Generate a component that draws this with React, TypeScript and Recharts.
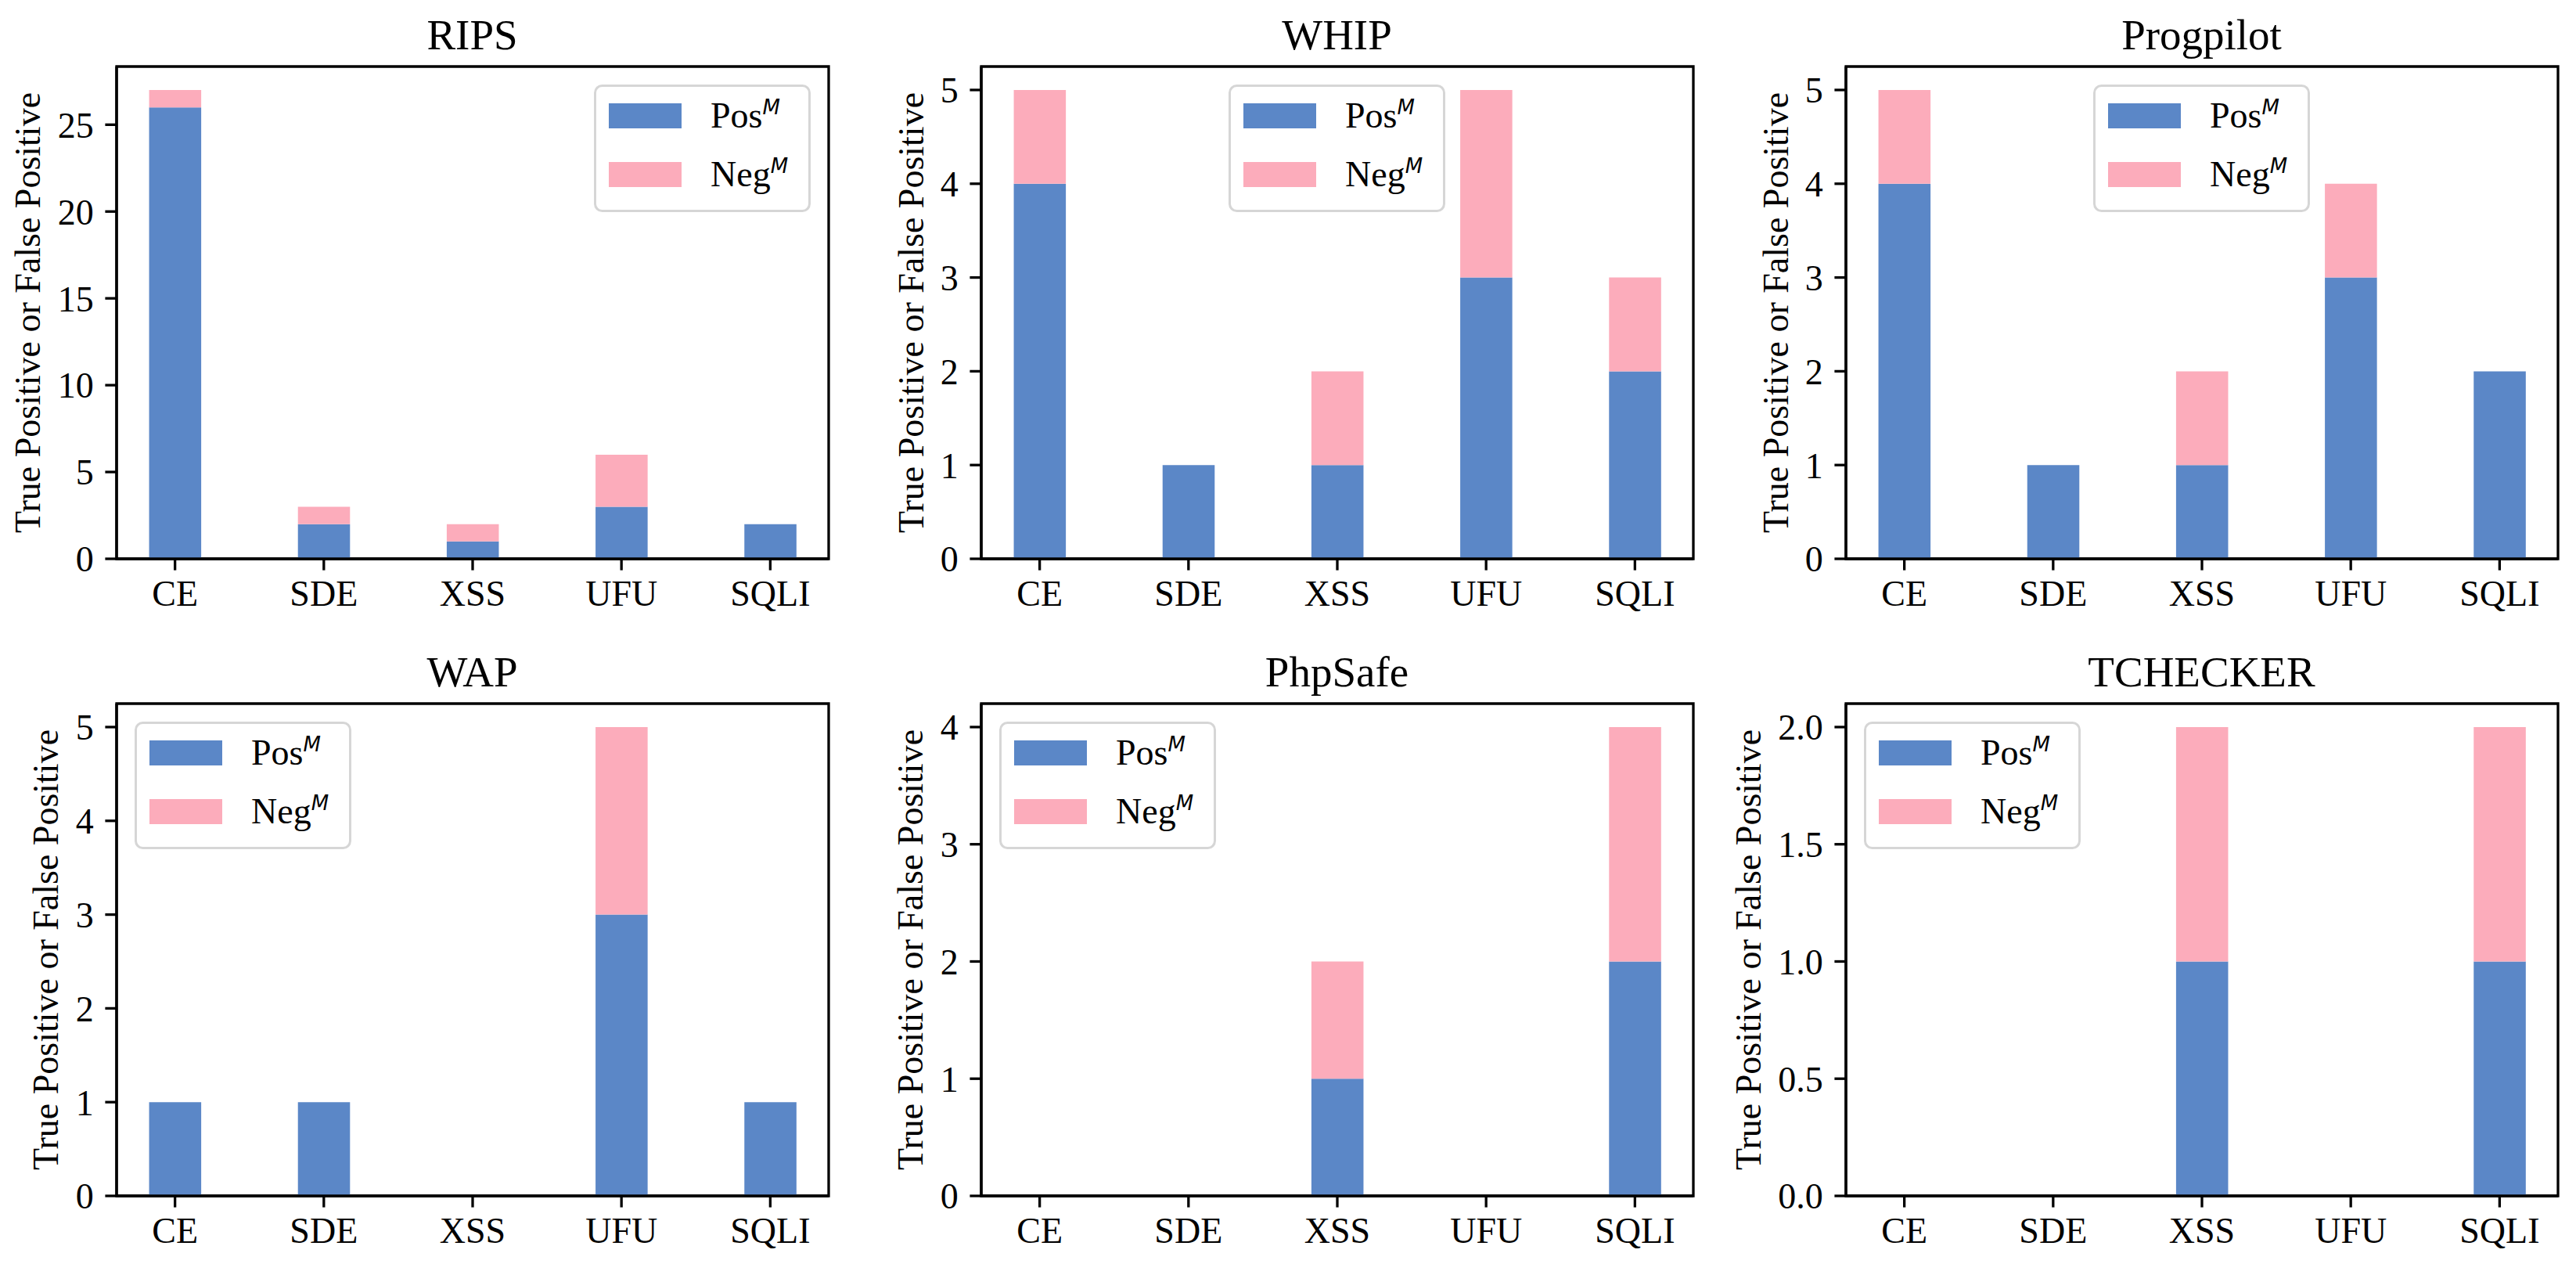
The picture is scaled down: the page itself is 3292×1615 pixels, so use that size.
import React from 'react';
import { BarChart, Bar, XAxis, YAxis, Legend, ReferenceArea } from 'recharts';

// ---------- data ----------
const categories = ['CE', 'SDE', 'XSS', 'UFU', 'SQLI'];
const seriesNames = ['Pos', 'Neg'];
const seriesColors = ['#5b87c7', '#fcacbb'];

const ripsPos = [26, 2, 1, 3, 2];
const ripsNeg = [1, 1, 1, 3, 0];
const whipPos = [4, 1, 1, 3, 2];
const whipNeg = [1, 0, 1, 2, 1];
const progpilotPos = [4, 1, 1, 3, 2];
const progpilotNeg = [1, 0, 1, 1, 0];
const wapPos = [1, 1, 0, 3, 1];
const wapNeg = [0, 0, 0, 2, 0];
const phpsafePos = [0, 0, 1, 0, 2];
const phpsafeNeg = [0, 0, 1, 0, 2];
const tcheckerPos = [0, 0, 1, 0, 1];
const tcheckerNeg = [0, 0, 1, 0, 1];

const ripsTicks = [0, 5, 10, 15, 20, 25];
const fiveTicks = [0, 1, 2, 3, 4, 5];
const fourTicks = [0, 1, 2, 3, 4];
const halfTicks = [0, 0.5, 1, 1.5, 2];

const yLabelText = 'True Positive or False Positive';

// ---------- layout ----------
const AX_LEFT = [148.5, 1253.5, 2358.5];
const AX_TOP = [85, 899];
const AX_W = 910;
const AX_H = 629;
const BAR_W = 0.35;
const X_PAD = 0.05 * (4 + BAR_W);
const XMIN = -BAR_W / 2 - X_PAD;
const XMAX = 4 + BAR_W / 2 + X_PAD;
const BAR_PX = (BAR_W * AX_W) / (XMAX - XMIN);

const ML = 80; // chart margin left
const YW = 60; // y axis width
const MT = 10;
const MR = 10;
const XH = 70;
const MB = 30;
const CW = ML + YW + AX_W + MR;
const CH = MT + AX_H + XH + MB;

const LEG_W = 277;
const LEG_H = 163;
const SPINE = 3.3;
const TICK_LEN = 14.6;
const FONT = "'Liberation Serif', 'Times New Roman', serif";

const panels = [
  { title: 'RIPS', pos: ripsPos, neg: ripsNeg, ticks: ripsTicks, dec: 0, loc: 'right', col: 0, row: 0, yl: -98 },
  { title: 'WHIP', pos: whipPos, neg: whipNeg, ticks: fiveTicks, dec: 0, loc: 'center', col: 1, row: 0, yl: -74 },
  { title: 'Progpilot', pos: progpilotPos, neg: progpilotNeg, ticks: fiveTicks, dec: 0, loc: 'center', col: 2, row: 0, yl: -74 },
  { title: 'WAP', pos: wapPos, neg: wapNeg, ticks: fiveTicks, dec: 0, loc: 'left', col: 0, row: 1, yl: -75 },
  { title: 'PhpSafe', pos: phpsafePos, neg: phpsafeNeg, ticks: fourTicks, dec: 0, loc: 'left', col: 1, row: 1, yl: -75 },
  { title: 'TCHECKER', pos: tcheckerPos, neg: tcheckerNeg, ticks: halfTicks, dec: 1, loc: 'left', col: 2, row: 1, yl: -109 },
];

function LegendBox() {
  return (
    <svg width={LEG_W} height={LEG_H} style={{ display: 'block' }}>
      <rect x={1.5} y={1.5} width={LEG_W - 3} height={LEG_H - 3} rx={9} ry={9}
        fill="#ffffff" fillOpacity={0.8} stroke="#d6d6d6" strokeWidth={3} />
      {seriesNames.map((name, i) => (
        <g key={name}>
          <rect x={19} y={24 + i * 75} width={93} height={32} fill={seriesColors[i]} />
          <text x={149} y={55 + i * 75} fontFamily={FONT} style={{ fontFamily: FONT }} fontSize={46} fill="#000">
            {name}
            <tspan dy={-17} fontFamily="'DejaVu Sans', sans-serif" style={{ fontFamily: "'DejaVu Sans', sans-serif" }}
              fontStyle="italic" fontSize={26}>M</tspan>
          </text>
        </g>
      ))}
    </svg>
  );
}

function Panel({ p }: { p: any }) {
  const axLeft = AX_LEFT[p.col];
  const axTop = AX_TOP[p.row];
  const left = axLeft - ML - YW;
  const top = axTop - MT;
  const data = categories.map((c, i) => ({ x: i, name: c, pos: p.pos[i], neg: p.neg[i] }));
  const ymax = Math.max(...data.map((d) => d.pos + d.neg)) * 1.05;
  let legX = axLeft + 23;
  if (p.loc === 'right') legX = axLeft + AX_W - 23 - LEG_W;
  if (p.loc === 'center') legX = axLeft + AX_W / 2 - LEG_W / 2;
  const legY = axTop + 23;
  const axisLine = { stroke: '#000', strokeWidth: SPINE };
  const tickStyle = { fontSize: 46, fill: '#000', fontFamily: FONT };
  return (
    <div style={{ position: 'absolute', left, top }}>
      <BarChart width={CW} height={CH} data={data}
        margin={{ top: MT, right: MR, bottom: MB, left: ML }}>
        <XAxis dataKey="x" type="number" domain={[XMIN, XMAX]} ticks={[0, 1, 2, 3, 4]}
          interval={0} tickFormatter={(v: number) => categories[v]} height={XH}
          tickSize={TICK_LEN} tickMargin={13} axisLine={axisLine}
          tickLine={{ stroke: '#000', strokeWidth: SPINE }} tick={tickStyle} />
        <YAxis type="number" domain={[0, ymax]} ticks={p.ticks} interval={0} width={YW}
          tickFormatter={(v: number) => v.toFixed(p.dec)}
          tickSize={TICK_LEN} tickMargin={14.6} axisLine={axisLine}
          tickLine={{ stroke: '#000', strokeWidth: SPINE }} tick={tickStyle} />
        <Bar dataKey="pos" stackId="s" fill={seriesColors[0]} barSize={BAR_PX} isAnimationActive={false} />
        <Bar dataKey="neg" stackId="s" fill={seriesColors[1]} barSize={BAR_PX} isAnimationActive={false} />
        <ReferenceArea x1={XMIN} x2={XMAX} y1={0} y2={ymax} fill="none" fillOpacity={0}
          stroke="#000" strokeWidth={SPINE} ifOverflow="visible" />
        <Legend layout="horizontal" verticalAlign="middle" align="center"
          wrapperStyle={{ left: legX - left, top: legY - top, width: LEG_W, height: LEG_H }}
          content={() => <LegendBox />} />
      </BarChart>
    </div>
  );
}

export default function App() {
  return (
    <div style={{ position: 'absolute', left: 0, top: 0, width: 3292, height: 1615, overflow: 'hidden', background: '#fff' }}>
      {panels.map((p) => (
        <Panel key={p.title} p={p} />
      ))}
      <svg width={3292} height={1615} style={{ position: 'absolute', left: 0, top: 0, pointerEvents: 'none' }}>
        {panels.map((p) => {
          const axLeft = AX_LEFT[p.col];
          const axTop = AX_TOP[p.row];
          return (
            <g key={p.title}>
              <text x={axLeft + AX_W / 2} y={axTop - 22} textAnchor="middle"
                fontFamily={FONT} style={{ fontFamily: FONT }} fontSize={55} fill="#000">{p.title}</text>
              <text transform={`translate(${axLeft + p.yl}, ${axTop + AX_H / 2}) rotate(-90)`}
                textAnchor="middle" fontFamily={FONT} style={{ fontFamily: FONT }} fontSize={46} fill="#000">{yLabelText}</text>
            </g>
          );
        })}
      </svg>
    </div>
  );
}
